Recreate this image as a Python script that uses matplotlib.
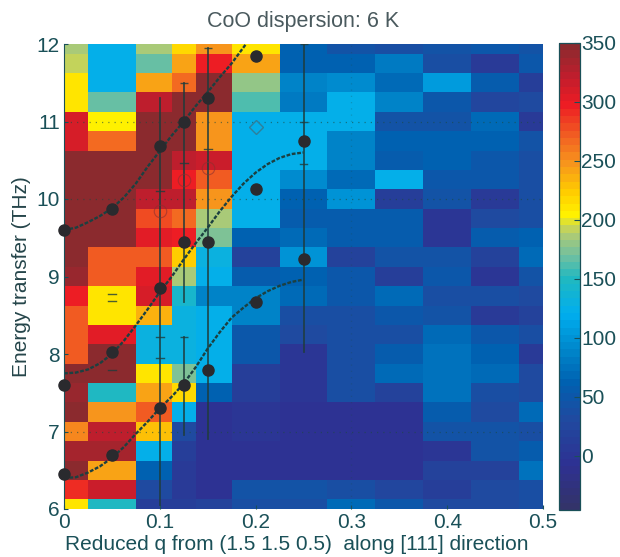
import numpy as np
import matplotlib
matplotlib.use("Agg")
import matplotlib.pyplot as plt
from matplotlib.colors import LinearSegmentedColormap

plt.rcParams['font.family'] = ['Liberation Sans', 'DejaVu Sans']

TEXT = "#1a5058"

q_edges = [0, 0.025, 0.075, 0.1125, 0.1375, 0.175, 0.225, 0.275, 0.325, 0.375, 0.425, 0.475, 0.5]
e_edges = [6, 6.125, 6.375, 6.625, 6.875, 7.125, 7.375, 7.625, 7.875, 8.125, 8.375, 8.625, 8.875,
           9.125, 9.375, 9.625, 9.875, 10.125, 10.375, 10.625, 10.875, 11.125, 11.375, 11.625, 11.875, 12]

# intensidad por columna de q, de E=6 a E=12 en pasos de 0.25
col_000 = [208, 290, 345, 335, 255, 345, 340, 345, 270, 275, 275, 300, 340, 350, 350, 350, 350, 350, 350, 310, 310, 210, 208, 190, 185]
col_005 = [150, 315, 240, 335, 325, 245, 150, 345, 345, 305, 208, 208, 275, 275, 350, 350, 350, 350, 350, 265, 205, 165, 125, 125, 125]
col_010 = [15, 30, 65, 125, 230, 275, 240, 208, 130, 130, 235, 310, 305, 275, 305, 280, 325, 350, 350, 350, 350, 320, 240, 170, 185]
col_0125 = [15, 5, 5, 10, 30, 125, 220, 175, 130, 130, 130, 145, 185, 225, 300, 265, 325, 300, 320, 350, 350, 345, 265, 240, 220]
col_015 = [20, -5, -5, -5, -5, -5, 60, 125, 125, 125, 125, 85, 125, 130, 175, 185, 245, 270, 315, 245, 245, 350, 350, 295, 250]
col_020 = [40, 45, -5, -5, 0, 0, 15, 10, 50, 50, 85, 85, 55, 20, 65, 125, 125, 125, 125, 125, 125, 160, 180, 240, 208]
col_025 = [40, 45, -5, -5, -5, -5, 0, 0, 0, 30, 40, 70, 65, 100, 70, 55, 60, 95, 125, 125, 125, 80, 90, 65, 65]
col_030 = [70, 35, -5, -5, -5, -5, 40, 40, 40, 40, 40, 50, 50, 20, 55, 55, 100, 70, 90, 85, 125, 125, 95, 65, 45]
col_035 = [50, 25, -5, -5, -5, -5, 20, 70, 55, 35, 50, 70, 15, 45, 55, 55, 15, 125, 55, 65, 45, 85, 70, 80, 35]
col_040 = [30, 15, 20, 0, 45, 55, 75, 75, 75, 70, 45, 40, 50, 45, 0, 0, 45, 50, 65, 60, 45, 50, 105, 40, 45]
col_045 = [30, 30, 20, 45, 45, 30, 35, 70, 60, 50, 5, 35, 0, 20, 55, 30, 5, 50, 50, 60, 70, 25, 55, 5, 50]
col_050 = [40, 40, 75, 55, 35, 70, 30, 30, 5, 40, 20, 30, 45, 70, 65, 35, 40, 40, 35, 45, 5, 30, 15, 50, 45]

columns = [col_000, col_005, col_010, col_0125, col_015, col_020, col_025, col_030, col_035, col_040, col_045, col_050]

# puntos medidos
dots_q = [0, 0.05, 0.1, 0.125, 0.15, 0.2, 0, 0.05, 0.1, 0.125, 0.15, 0.2, 0.25, 0, 0.05, 0.1, 0.125, 0.15, 0.2, 0.25]
dots_e = [9.6, 9.87, 10.68, 11.0, 11.3, 11.85, 7.6, 8.02, 8.85, 9.45, 9.45, 10.13, 10.75, 6.45, 6.7, 7.3, 7.6, 7.8, 8.67, 9.23]

# curvas de dispersion
curve1_q = [0, 0.0125, 0.025, 0.0375, 0.05, 0.0625, 0.075, 0.0875, 0.1, 0.1125, 0.125, 0.1375, 0.15, 0.1625, 0.175, 0.19]
curve1_e = [9.6, 9.63, 9.7, 9.78, 9.88, 10.02, 10.2, 10.42, 10.62, 10.82, 11.0, 11.2, 11.38, 11.57, 11.75, 12.0]
curve2_q = [0, 0.0125, 0.025, 0.0375, 0.05, 0.0625, 0.075, 0.0875, 0.1, 0.1125, 0.125, 0.1375, 0.15, 0.1625, 0.175, 0.1875, 0.2, 0.2125, 0.225, 0.2375, 0.25]
curve2_e = [7.75, 7.76, 7.8, 7.88, 8.0, 8.17, 8.37, 8.58, 8.8, 9.0, 9.22, 9.43, 9.63, 9.84, 10.03, 10.2, 10.34, 10.45, 10.53, 10.58, 10.6]
curve3_q = [0, 0.0125, 0.025, 0.0375, 0.05, 0.0625, 0.075, 0.0875, 0.1, 0.1125, 0.125, 0.1375, 0.15, 0.1625, 0.175, 0.1875, 0.2, 0.2125, 0.225, 0.2375, 0.25]
curve3_e = [6.4, 6.41, 6.47, 6.55, 6.66, 6.8, 6.97, 7.13, 7.3, 7.45, 7.62, 7.83, 8.07, 8.28, 8.47, 8.6, 8.72, 8.81, 8.88, 8.93, 8.96]

# barras de error (q, abajo, arriba)
err_q = [0.1, 0.125, 0.125, 0.15, 0.25]
err_lo = [6.05, 8.67, 6.95, 6.9, 8.02]
err_hi = [11.3, 11.5, 8.22, 11.95, 12.0]
cap_q = [0.1, 0.1, 0.1, 0.125, 0.15, 0.05, 0.05, 0.05, 0.25, 0.25]
cap_e = [10.1, 8.22, 7.95, 10.47, 10.65, 8.78, 8.68, 7.8, 10.45, 11.0]

open_q = [0.1, 0.125, 0.15]
open_e = [9.85, 10.25, 10.4]

colors_pos = [-46, -10, 30, 60, 90, 120, 150, 170, 190, 205, 225, 250, 275, 300, 325, 350]
colors_hex = ["#33336a", "#2e3192", "#1f4aa0", "#0060b0", "#0088cc", "#00aeef", "#20b8c0", "#70c0a0",
              "#b5cc70", "#fff200", "#ffcc00", "#f7941d", "#f15a22", "#ed1c24", "#be1e2d", "#8b2a2e"]
vmin, vmax = -46, 350

stops = [((p - vmin) / (vmax - vmin), c) for p, c in zip(colors_pos, colors_hex)]
cmap = LinearSegmentedColormap.from_list("coo", stops, N=64)

W, H = 620, 557
fig = plt.figure(figsize=(W / 100, H / 100), dpi=100)
ax = fig.add_axes([64 / W, 1 - 509 / H, (543 - 64) / W, (509 - 44) / H])

Z = np.array(columns).T
mesh = ax.pcolormesh(q_edges, e_edges, Z, cmap=cmap, vmin=vmin, vmax=vmax)

for y in [7, 10, 11]:
    ax.plot([0, 0.5], [y, y], color="#1d4a40", lw=0.9, ls=(0, (1, 4)), alpha=0.6)
ax.plot([0.3, 0.3], [6, 12], color="#1d4a40", lw=0.9, ls=(0, (1, 4)), alpha=0.25)

for q, lo, hi in zip(err_q, err_lo, err_hi):
    ax.plot([q, q], [lo, hi], color="#1f3c3c", lw=1.3, alpha=0.85)
for q, e in zip(cap_q, cap_e):
    ax.plot([q - 0.004, q + 0.004], [e, e], color="#1f3c3c", lw=1.0, alpha=0.8)
ax.plot(err_q[1:], err_hi[1:], ls="none", marker="_", ms=6, color="#1f3c3c", alpha=0.8)

for cq, ce in [(curve1_q, curve1_e), (curve2_q, curve2_e), (curve3_q, curve3_e)]:
    ax.plot(cq, ce, color="#1c4040", lw=1.7, ls=(0, (1.6, 0.7)))

ax.plot(open_q, open_e, ls="none", marker="o", ms=9, mfc="none", mec="#8a3030", mew=0.8, alpha=0.6)
ax.plot([0.2], [10.93], ls="none", marker="D", ms=7, mfc="none", mec="#2f7f9a", mew=1.0)
ax.plot(dots_q, dots_e, ls="none", marker="o", ms=8, color="#2a2a2e", clip_on=False, zorder=5)

ax.set_xlim(0, 0.5)
ax.set_ylim(6, 12)
ax.set_xticks([0, 0.1, 0.2, 0.3, 0.4, 0.5])
ax.set_xticklabels(["0", "0.1", "0.2", "0.3", "0.4", "0.5"])
ax.set_yticks([6, 7, 8, 9, 10, 11, 12])
ax.tick_params(direction="in", length=3, width=0.8, colors=TEXT, labelsize=15, pad=3)
for s in ax.spines.values():
    s.set_visible(False)
ax.spines["left"].set_visible(True)
ax.spines["left"].set_color(TEXT)
fig.text(297 / W, 1 - 545 / H, "Reduced q from (1.5 1.5 0.5)  along [111] direction", fontsize=15, color=TEXT, ha="center", va="center")
ax.set_ylabel("Energy transfer (THz)", fontsize=15, color="#25454a", labelpad=4)
fig.text(303 / W, 1 - 21 / H, "CoO dispersion: 6 K", fontsize=15.5, color="#4a5a5e", ha="center", va="center")

cax = fig.add_axes([559 / W, 1 - 510 / H, 21 / W, (510 - 43) / H])
cb = fig.colorbar(mesh, cax=cax)
cb.set_ticks([0, 50, 100, 150, 200, 250, 300, 350])
cb.ax.tick_params(direction="in", length=4, width=0.8, colors=TEXT, labelsize=15, pad=1)
cb.outline.set_edgecolor(TEXT)
cb.outline.set_linewidth(0.9)

fig.savefig("out.png", dpi=100)
plt.close(fig)
